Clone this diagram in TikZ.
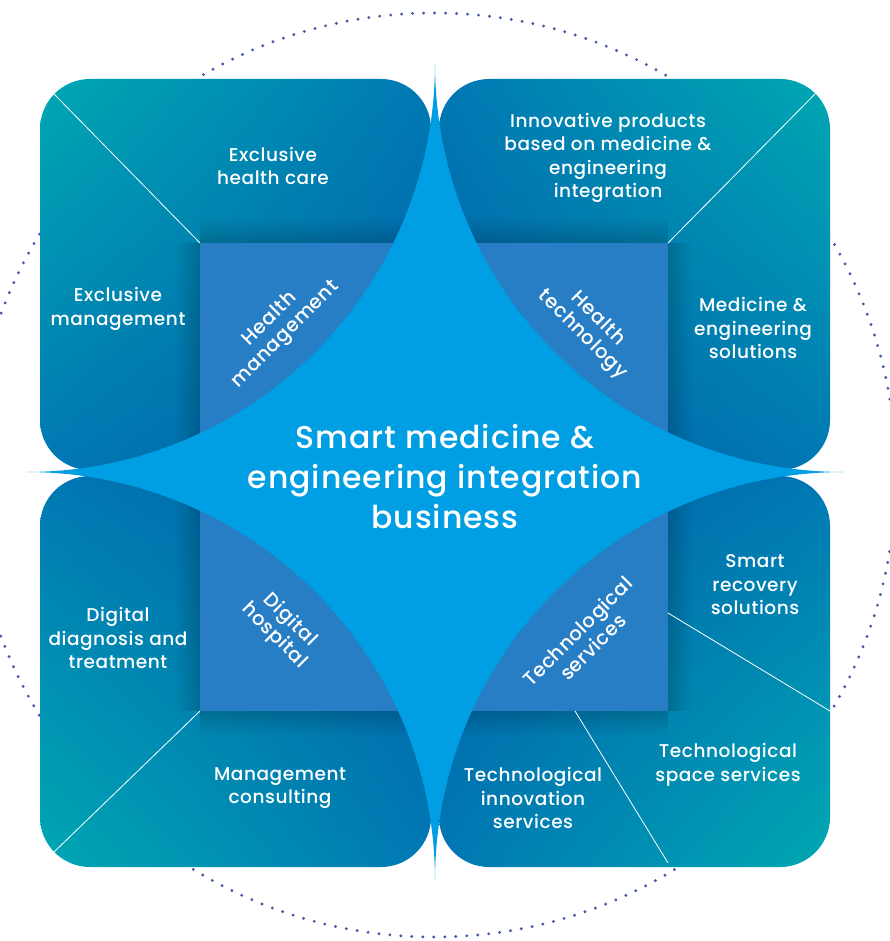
\documentclass[tikz,border=0pt]{standalone}
\usepackage{fontspec}
\IfFontExistsTF{Poppins Medium}
  {\setmainfont{Poppins Medium}[LetterSpace=3]}
  {\setmainfont{Poppins}[LetterSpace=3, FakeBold=0.6]}
\definecolor{starblue}{RGB}{0,158,226}
\definecolor{sqblue}{RGB}{40,126,196}
\definecolor{tealc}{RGB}{0,168,178}
\definecolor{darkc}{RGB}{0,92,162}
\definecolor{midc}{RGB}{0,120,180}
\definecolor{dotc}{RGB}{72,88,166}
\usetikzlibrary{shadings}
\tikzset{
  panel/.style={rounded corners=50pt},
  sep/.style={draw=white, line width=0.8pt},
  item/.style={text=white, align=center, inner sep=0pt, font=\fontsize{18.5}{23.5}\selectfont},
  core/.style={text=white, align=center, inner sep=0pt, font=\fontsize{19.5}{22}\selectfont},
  title/.style={text=white, align=center, inner sep=0pt, font=\fontsize{31.5}{40}\selectfont},
}
\begin{document}
\begin{tikzpicture}[x=1pt,y=-1pt]
\useasboundingbox (0,0) rectangle (890,941);
% dotted circle
\draw[dotc, line width=3.2pt, line cap=round, dash pattern=on 0pt off 11pt] (434,475) circle[radius=462];
% panels
\shade[panel, upper left=tealc, lower right=darkc, upper right=midc, lower left=midc] (40,79) rectangle (431,470);
\shade[panel, upper right=tealc, lower left=darkc, upper left=midc, lower right=midc] (439,79) rectangle (830,470);
\shade[panel, lower left=tealc, upper right=darkc, upper left=midc, lower right=midc] (40,476) rectangle (431,867);
\shade[panel, lower right=tealc, upper left=darkc, upper right=midc, lower left=midc] (439,476) rectangle (830,867);
% soft shadows along the square
\foreach \i in {0,...,7}{
  \pgfmathsetmacro{\op}{0.16-0.02*\i}
  \fill[black, opacity=\op] ({197-3*\i},243) rectangle ({200-3*\i},470);
  \fill[black, opacity=\op] ({197-3*\i},476) rectangle ({200-3*\i},711);
  \fill[black, opacity=\op] ({668+3*\i},243) rectangle ({671+3*\i},470);
  \fill[black, opacity=\op] ({668+3*\i},476) rectangle ({671+3*\i},711);
  \fill[black, opacity=\op] (200,{240-3*\i}) rectangle (431,{243-3*\i});
  \fill[black, opacity=\op] (439,{240-3*\i}) rectangle (668,{243-3*\i});
  \fill[black, opacity=\op] (200,{711+3*\i}) rectangle (431,{714+3*\i});
  \fill[black, opacity=\op] (439,{711+3*\i}) rectangle (668,{714+3*\i});
}
% inner square
\fill[sqblue] (200,243) rectangle (668,711);
% separators
\coordinate (tl1) at (54,94);   \coordinate (tl2) at (200,243);
\coordinate (tr1) at (815,94);  \coordinate (tr2) at (668,243);
\coordinate (bl1) at (54,852);  \coordinate (bl2) at (200,711);
\coordinate (br1) at (668,613); \coordinate (br2) at (830,711);
\coordinate (br3) at (575,711); \coordinate (br4) at (668,863);
\draw[sep] (tl1) -- (tl2);
\draw[sep] (tr1) -- (tr2);
\draw[sep] (bl1) -- (bl2);
\draw[sep] (br1) -- (br2);
\draw[sep] (br3) -- (br4);
% star
\fill[starblue] (435,63)
  arc[start angle=0, end angle=90, radius=409]
  arc[start angle=270, end angle=360, radius=409]
  arc[start angle=180, end angle=270, radius=409]
  arc[start angle=90, end angle=180, radius=409] -- cycle;
% texts
\node[title] (center) at (445,477) {Smart medicine \&\\engineering integration\\business};
\node[core, rotate=45] (hm) at (278,327) {Health\\management};
\node[core, rotate=-45] (ht) at (590,327) {Health\\technology};
\node[core, rotate=-45] (dh) at (282,628) {Digital\\hospital};
\node[core, rotate=45] (ts) at (585,639) {Technological\\services};
\node[item] (ehc) at (273,166) {Exclusive\\health care};
\node[item] (em) at (118,309) {Exclusive\\management};
\node[item] (ip) at (608,158) {Innovative products\\based on medicine \&\\engineering\\integration};
\node[item] (mes) at (753,328) {Medicine \&\\engineering\\solutions};
\node[item] (ddt) at (118,638) {Digital\\diagnosis and\\treatment};
\node[item] (mc) at (280,788) {Management\\consulting};
\node[item] (srs) at (755,585) {Smart\\recovery\\solutions};
\node[item] (tss) at (728,765) {Technological\\space services};
\node[item] (tis) at (533,798) {Technological\\innovation\\services};
\end{tikzpicture}
\end{document}
